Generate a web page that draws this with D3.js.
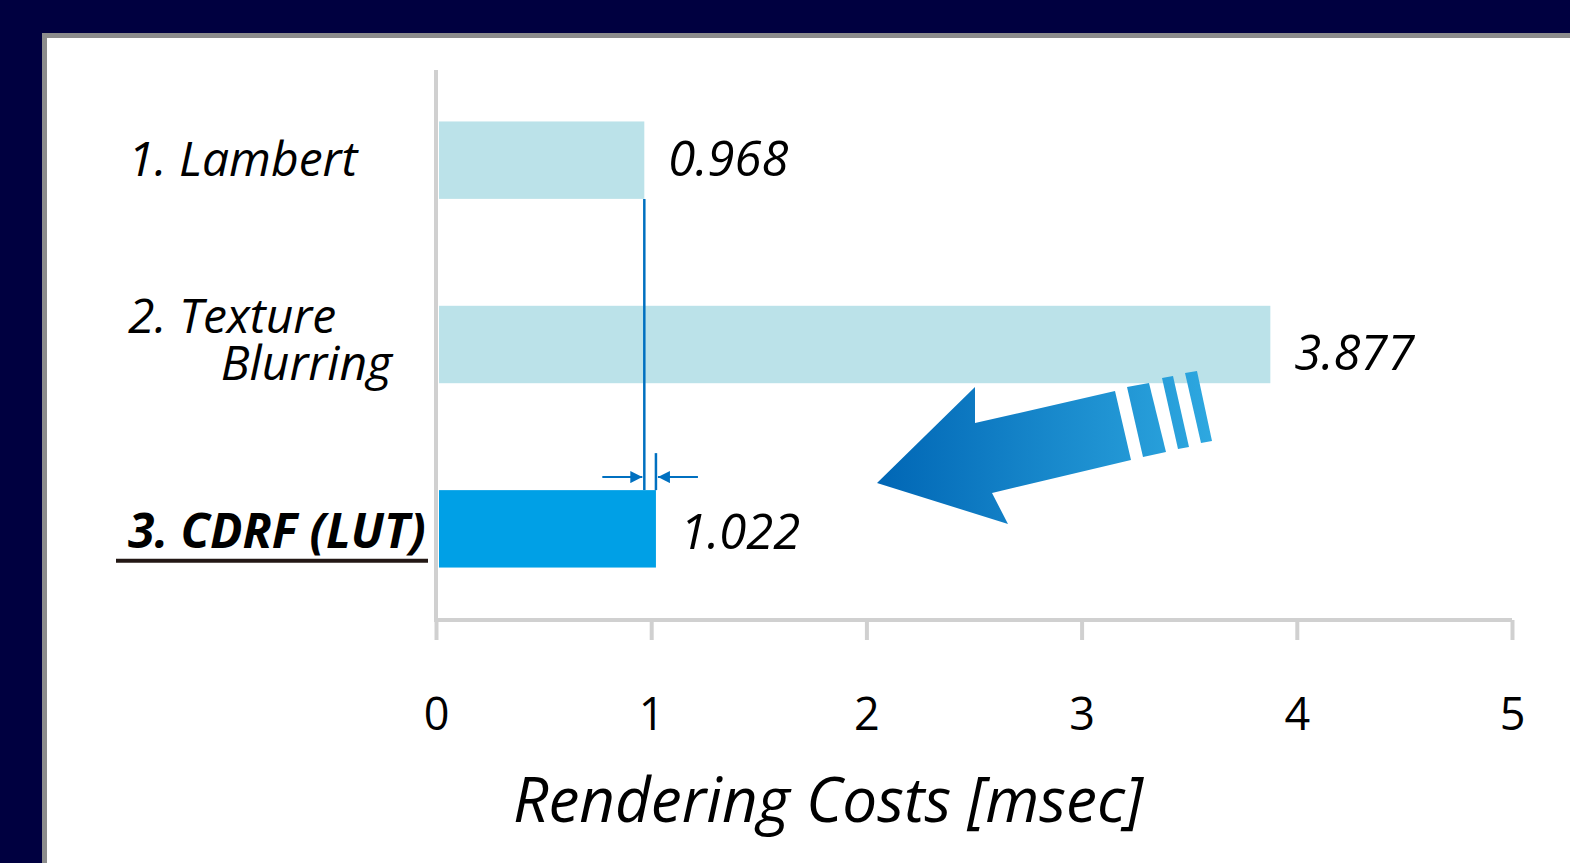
<!DOCTYPE html>
<html>
<head>
<meta charset="utf-8">
<script src="https://cdn.jsdelivr.net/npm/d3@7"></script>
<style>
  html, body { margin: 0; padding: 0; background: #000040; }
  svg { display: block; }
  text { font-family: "Open Sans", "Noto Sans", sans-serif; fill: #000; }
</style>
</head>
<body>
<svg id="chart" width="1570" height="863"></svg>
<script>
// Rendering cost of each shading method, in milliseconds
const methods = ["1. Lambert", "2. Texture Blurring", "3. CDRF (LUT)"];
const labelLines = [["1. Lambert"], ["2. Texture", "Blurring"], ["3. CDRF (LUT)"]];
const costs = [0.968, 3.877, 1.022];
const valueLabels = ["0.968", "3.877", "1.022"];
const barColors = ["#bbe2e9", "#bbe2e9", "#00a0e6"];
const highlighted = [false, false, true];
const tickValues = [0, 1, 2, 3, 4, 5];
const axisTitle = "Rendering Costs [msec]";

const svg = d3.select("#chart");

// White slide panel with grey frame
svg.append("rect")
  .attr("x", 44.5).attr("y", 35.5)
  .attr("width", 1600).attr("height", 900)
  .attr("fill", "#fff")
  .attr("stroke", "#8c8c8c").attr("stroke-width", 5);

const x = d3.scaleLinear().domain([0, 5]).range([436, 1512]);
const y = d3.scaleBand().domain(methods).range([68, 621])
  .paddingInner(0.58).paddingOuter(0.29);

const axisColor = "#d0d0d0";

// Horizontal value axis
const xAxis = d3.axisBottom(x).tickValues(tickValues).tickSize(20)
  .tickFormat(d3.format("d"));
const gx = svg.append("g").attr("transform", "translate(0,620)").call(xAxis);
gx.select(".domain").attr("stroke", axisColor).attr("stroke-width", 4)
  .attr("d", `M${x(0)},0H${x(5)}`);
gx.selectAll(".tick line").attr("stroke", axisColor).attr("stroke-width", 4);
gx.selectAll(".tick text")
  .style("font-family", '"Open Sans", sans-serif')
  .style("font-size", "45px").attr("fill", "#000").attr("dy", 0)
  .attr("y", 110);

// Vertical category axis line
svg.append("line")
  .attr("x1", x(0)).attr("x2", x(0))
  .attr("y1", 70).attr("y2", 622)
  .attr("stroke", axisColor).attr("stroke-width", 4);

// Bars
svg.append("g").selectAll("rect")
  .data(methods)
  .join("rect")
  .attr("x", x(0) + 3)
  .attr("y", d => y(d))
  .attr("width", (d, i) => x(costs[i]) - x(0) - 3)
  .attr("height", y.bandwidth())
  .attr("fill", (d, i) => barColors[i]);

// Value labels
const valueOffsets = [16, 25, 20];
svg.append("g").selectAll("text")
  .data(methods)
  .join("text")
  .attr("x", (d, i) => x(costs[i]) + 24)
  .attr("y", (d, i) => y(d) + y.bandwidth() / 2 + valueOffsets[i])
  .style("font-size", "49px").style("font-style", "italic")
  .text((d, i) => valueLabels[i]);

// Category labels
const lineOffsets = [[16], [-12, 35], [19]];
const catG = svg.append("g");
methods.forEach((m, i) => {
  labelLines[i].forEach((line, j) => {
    const t = catG.append("text")
      .attr("y", y(m) + y.bandwidth() / 2 + lineOffsets[i][j])
      .style("font-size", "48px")
      .style("font-style", "italic")
      .style("font-weight", highlighted[i] ? 700 : 400)
      .text(line);
    if (j === 0) t.attr("x", 128).attr("text-anchor", "start");
    else t.attr("x", 392).attr("text-anchor", "end");
  });
  if (highlighted[i]) {
    catG.append("line")
      .attr("x1", 116).attr("x2", 428)
      .attr("y1", y(m) + y.bandwidth() / 2 + 32)
      .attr("y2", y(m) + y.bandwidth() / 2 + 32)
      .attr("stroke", "#231815").attr("stroke-width", 4);
  }
});

// Difference marker between Lambert and CDRF bar ends
const markColor = "#0070c0";
const defs = svg.append("defs");
defs.append("marker").attr("id", "tip")
  .attr("viewBox", "0 0 10 10").attr("refX", 10).attr("refY", 5)
  .attr("markerWidth", 11).attr("markerHeight", 6)
  .attr("markerUnits", "strokeWidth").attr("orient", "auto")
  .append("path").attr("d", "M0,0L10,5L0,10Z").attr("fill", markColor);

const ann = svg.append("g");
const yBottom1 = y(methods[0]) + y.bandwidth();
const yTop3 = y(methods[2]);
ann.append("line")
  .attr("x1", x(costs[0])).attr("x2", x(costs[0]))
  .attr("y1", yBottom1).attr("y2", yTop3)
  .attr("stroke", markColor).attr("stroke-width", 2.5);
ann.append("line")
  .attr("x1", x(costs[2])).attr("x2", x(costs[2]))
  .attr("y1", yTop3 - 37).attr("y2", yTop3)
  .attr("stroke", markColor).attr("stroke-width", 2.5);
const yArrow = yTop3 - 13;
ann.append("line")
  .attr("x1", x(costs[0]) - 42).attr("x2", x(costs[0]) - 2)
  .attr("y1", yArrow).attr("y2", yArrow)
  .attr("stroke", markColor).attr("stroke-width", 2)
  .attr("marker-end", "url(#tip)");
ann.append("line")
  .attr("x1", x(costs[2]) + 42).attr("x2", x(costs[2]) + 2)
  .attr("y1", yArrow).attr("y2", yArrow)
  .attr("stroke", markColor).attr("stroke-width", 2)
  .attr("marker-end", "url(#tip)");

// Large gradient arrow pointing from Texture Blurring toward CDRF
const grad = defs.append("linearGradient").attr("id", "arrowGrad")
  .attr("gradientUnits", "userSpaceOnUse")
  .attr("x1", 877).attr("y1", 0).attr("x2", 1212).attr("y2", 0);
grad.append("stop").attr("offset", "0%").attr("stop-color", "#0066b5");
grad.append("stop").attr("offset", "100%").attr("stop-color", "#2ea8e0");

const bigArrow = svg.append("g").attr("fill", "url(#arrowGrad)");
bigArrow.append("path").attr("d",
  "M877,483 L975,387 L975,423 L1115,391 L1131,460 L992,493 L1008,524 Z");
bigArrow.append("path").attr("d", "M1127,387 L1149,383 L1166,452 L1143,457 Z");
bigArrow.append("path").attr("d", "M1162,378 L1173,376 L1189,447 L1178,449 Z");
bigArrow.append("path").attr("d", "M1185,373 L1197,371 L1212,441 L1201,443 Z");

// Axis title
svg.append("text")
  .attr("x", 513).attr("y", 822)
  .attr("text-anchor", "start")
  .style("font-size", "62px").style("font-style", "italic")
  .text(axisTitle);
</script>
</body>
</html>
